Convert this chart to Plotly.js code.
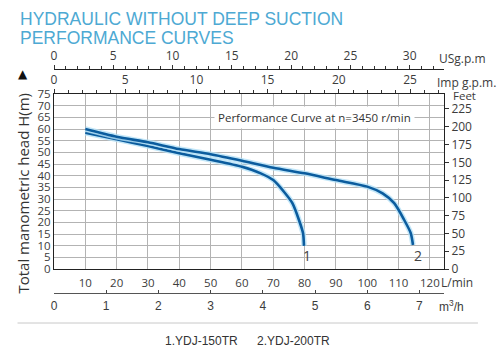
<!DOCTYPE html>
<html>
<head>
<meta charset="utf-8">
<script src="https://cdn.plot.ly/plotly-3.0.1.min.js"></script>
<style>html,body{margin:0;padding:0;background:#fff;}#chart{width:499px;height:352px;}</style>
</head>
<body>
<div id="chart"></div>
<script>
// ---- data (flow in L/min, head in m) ----
const flow1 = [10, 20, 30, 40, 50, 60, 66, 70, 73.4, 76.1, 78.2, 79.5, 79.8];
const head1 = [58.4, 55.6, 52.7, 49.6, 46.8, 43.8, 41.0, 38.1, 33.1, 28.2, 21.0, 15.3, 9.9];
const flow2 = [10, 20, 30, 40, 50, 60, 70, 80, 90, 100, 104.9, 108.6, 111.8, 113.9, 114.6];
const head2 = [60.0, 56.7, 54.3, 51.4, 49.2, 46.4, 43.4, 41.0, 38.1, 35.3, 32.4, 28.2, 21.0, 15.3, 10.3];
const curveNames = ["1", "2"];
const modelLabels = ["1.YDJ-150TR", "2.YDJ-200TR"];

// ---- tick labels ----
const lpmTicks = [10, 20, 30, 40, 50, 60, 70, 80, 90, 100, 110, 120];
const m3hTicks = [0, 1, 2, 3, 4, 5, 6, 7];
const usgpmTicks = [0, 5, 10, 15, 20, 25, 30];
const impTicks = [0, 5, 10, 15, 20, 25];
const headTicks = [0, 5, 10, 15, 20, 25, 30, 35, 40, 45, 50, 55, 60, 65, 70, 75];
const feetTicks = [0, 25, 50, 75, 100, 125, 150, 175, 200, 225];

// unit conversions
const L_PER_USGAL = 3.785, L_PER_IMPGAL = 4.546, M3H_PER_LPM = 0.06, FT_PER_M = 3.281;
const xMax = 124.5, yMax = 75;

// pixel -> paper helpers
const PL = 53.5, PR = 444, PT = 69, PB = 293;
const px = x => (x - PL) / (PR - PL);
const py = y => (PB - y) / (PB - PT);

const lineColor = '#0b5c9e', glowColor = '#b3e0f6';
const tickColor = '#3c3c3c';
const fnt = 'Open Sans, Noto Sans, sans-serif';
const arial = 'Liberation Sans, Arial, sans-serif';

const traces = [];
[[flow1, head1], [flow2, head2]].forEach(([x, y]) => {
  traces.push({x, y, type: 'scatter', mode: 'lines', line: {color: glowColor, width: 5.5, shape: 'spline', smoothing: 0.7}, opacity: 0.8, hoverinfo: 'skip', showlegend: false});
  traces.push({x, y, type: 'scatter', mode: 'lines', line: {color: lineColor, width: 2.6, shape: 'spline', smoothing: 0.7}, hoverinfo: 'skip', showlegend: false});
});
// carriers for the secondary axes
traces.push({x: [null], y: [null], xaxis: 'x2', yaxis: 'y', showlegend: false, hoverinfo: 'skip'});
traces.push({x: [null], y: [null], xaxis: 'x3', yaxis: 'y', showlegend: false, hoverinfo: 'skip'});
traces.push({x: [null], y: [null], xaxis: 'x4', yaxis: 'y', showlegend: false, hoverinfo: 'skip'});
traces.push({x: [null], y: [null], xaxis: 'x', yaxis: 'y2', showlegend: false, hoverinfo: 'skip'});

const yDom = [py(269), py(94)];

const annotations = [
  {text: 'HYDRAULIC WITHOUT DEEP SUCTION', x: px(17), y: py(19), xanchor: 'left', yanchor: 'middle', font: {family: arial, size: 17.5, color: '#4da9d3'}},
  {text: 'PERFORMANCE CURVES', x: px(17), y: py(38), xanchor: 'left', yanchor: 'middle', font: {family: arial, size: 17.5, color: '#4da9d3'}},
  {text: '▲', x: px(22), y: py(74), xanchor: 'center', yanchor: 'middle', font: {family: 'DejaVu Sans', size: 12, color: '#111'}},
  {text: 'Total manometric head H(m)', x: px(22), y: py(193), textangle: -90, xanchor: 'center', yanchor: 'middle', font: {family: fnt, size: 15, color: '#333'}},
  {text: 'Feet', x: px(465), y: py(95.5), xanchor: 'center', yanchor: 'middle', font: {family: fnt, size: 11.5, color: tickColor}},
  {text: 'USg.p.m', x: px(437), y: py(58), xanchor: 'left', yanchor: 'middle', font: {family: fnt, size: 12, color: tickColor}},
  {text: 'Imp g.p.m.', x: px(435), y: py(82), xanchor: 'left', yanchor: 'middle', font: {family: fnt, size: 12, color: tickColor}},
  {text: 'L/min', x: px(439), y: py(282), xanchor: 'left', yanchor: 'middle', font: {family: fnt, size: 12, color: tickColor}},
  {text: 'm<sup>3</sup>/h', x: px(437), y: py(306), xanchor: 'left', yanchor: 'middle', font: {family: arial, size: 12, color: tickColor}},
  {text: 'Performance Curve at n=3450 r/min', xref: 'x', yref: 'y', x: 83.2, y: 65.1, xanchor: 'center', yanchor: 'middle', bgcolor: '#ffffff', borderpad: 3, font: {family: fnt, size: 11.5, color: '#333'}},
  {text: curveNames[0], xref: 'x', yref: 'y', x: flow1[flow1.length - 1] + 1, y: 6, xanchor: 'center', yanchor: 'middle', font: {family: fnt, size: 14, color: '#444'}},
  {text: curveNames[1], xref: 'x', yref: 'y', x: flow2[flow2.length - 1] + 1.5, y: 6, xanchor: 'center', yanchor: 'middle', font: {family: fnt, size: 14, color: '#444'}},
  {text: modelLabels[0], x: px(201), y: py(341), xanchor: 'center', yanchor: 'middle', font: {family: arial, size: 12, color: '#333'}},
  {text: modelLabels[1], x: px(293.5), y: py(341), xanchor: 'center', yanchor: 'middle', font: {family: arial, size: 12, color: '#333'}}
].map(a => Object.assign({xref: 'paper', yref: 'paper', showarrow: false}, a));

const layout = {
  width: 499, height: 352,
  margin: {l: PL, r: 499 - PR, t: PT, b: 352 - PB, pad: 0},
  paper_bgcolor: '#fff', plot_bgcolor: '#fff',
  showlegend: false,
  xaxis: {
    range: [0, xMax], domain: [0, 1], anchor: 'y',
    tickmode: 'array', tickvals: lpmTicks, ticks: '',
    showgrid: true, gridcolor: '#b3b3b3', gridwidth: 1, zeroline: false,
    showline: true, linecolor: '#222', linewidth: 1,
    tickfont: {family: fnt, size: 11.5, color: tickColor}, ticklabelstandoff: 3
  },
  xaxis2: {
    overlaying: 'x', anchor: 'y', side: 'top', range: [0, xMax / L_PER_IMPGAL],
    tickmode: 'array', tickvals: impTicks, ticks: 'outside', ticklen: 4, tickcolor: '#333',
    minor: {dtick: 1, tick0: 0, ticks: 'outside', ticklen: 3, tickcolor: '#333', showgrid: false},
    showgrid: false, zeroline: false, showline: true, linecolor: '#222', linewidth: 1,
    tickfont: {family: fnt, size: 12, color: tickColor}
  },
  xaxis3: {
    overlaying: 'x', anchor: 'free', position: 0, side: 'bottom', range: [0, xMax * M3H_PER_LPM],
    tickmode: 'array', tickvals: m3hTicks, ticks: 'inside', ticklen: 3, tickcolor: '#444',
    showgrid: false, zeroline: false, showline: true, linecolor: '#555', linewidth: 1,
    tickfont: {family: arial, size: 12, color: tickColor}, ticklabelstandoff: 2
  },
  xaxis4: {
    overlaying: 'x', anchor: 'free', position: 1, side: 'top', range: [0, xMax / L_PER_USGAL],
    tickmode: 'array', tickvals: usgpmTicks, ticks: 'outside', ticklen: 4, tickcolor: '#333',
    minor: {dtick: 1, tick0: 0, ticks: 'outside', ticklen: 3, tickcolor: '#333', showgrid: false},
    showgrid: false, zeroline: false, showline: true, linecolor: '#222', linewidth: 1,
    tickfont: {family: fnt, size: 12, color: tickColor}
  },
  yaxis: {
    domain: yDom, range: [0, yMax], anchor: 'x',
    tickmode: 'array', tickvals: headTicks, ticks: '',
    showgrid: true, gridcolor: '#b3b3b3', gridwidth: 1, zeroline: false,
    showline: true, linecolor: '#222', linewidth: 1,
    tickfont: {family: fnt, size: 11.5, color: tickColor}
  },
  yaxis2: {
    overlaying: 'y', anchor: 'x', side: 'right', range: [0, yMax * FT_PER_M],
    tickmode: 'array', tickvals: feetTicks, ticks: 'outside', ticklen: 4, tickcolor: '#333',
    showgrid: false, zeroline: false, showline: true, linecolor: '#222', linewidth: 1,
    tickfont: {family: fnt, size: 12, color: tickColor}
  },
  shapes: [
    {type: 'line', xref: 'paper', yref: 'paper', x0: px(17), x1: px(478), y0: py(323), y1: py(323), line: {color: '#c8c8c8', width: 1}}
  ],
  annotations
};

Plotly.newPlot('chart', traces, layout, {displayModeBar: false, staticPlot: true});
</script>
</body>
</html>
